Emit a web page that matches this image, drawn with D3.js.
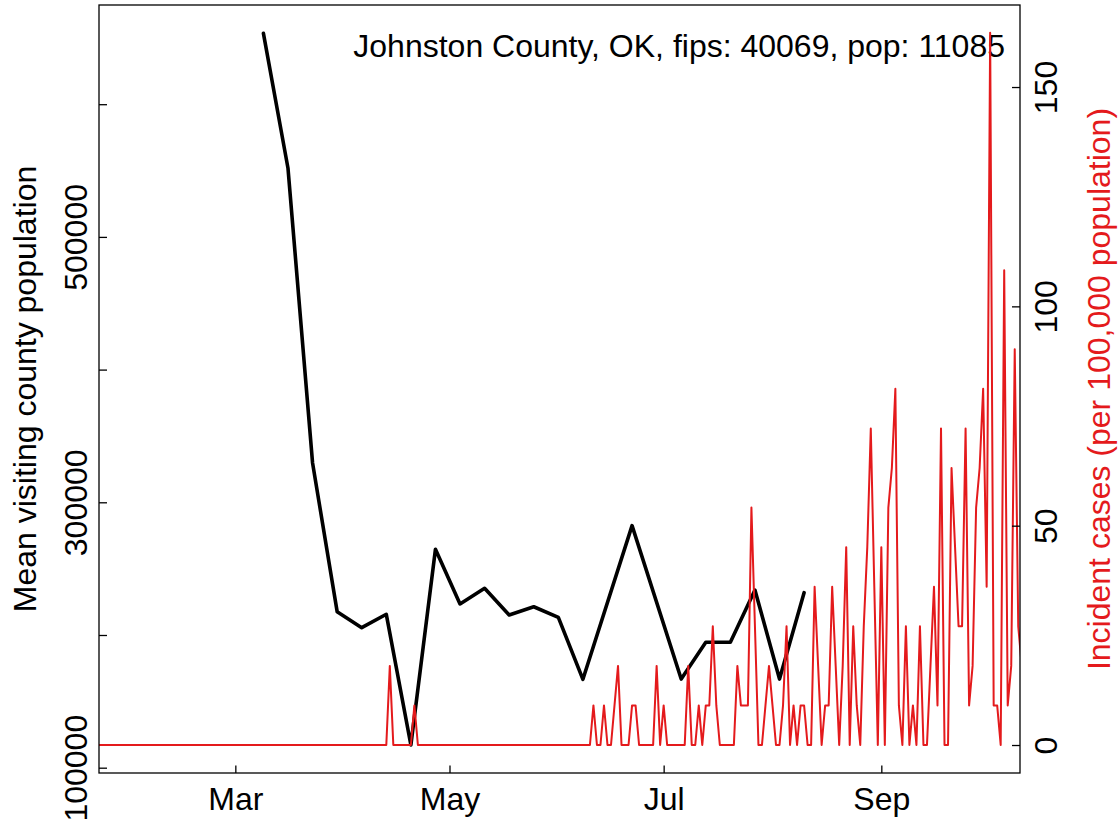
<!DOCTYPE html>
<html>
<head>
<meta charset="utf-8">
<script src="https://cdn.jsdelivr.net/npm/d3@7"></script>
<style>
body { margin: 0; background: #fff; }
text { font-family: "Liberation Sans", Arial, sans-serif; }
</style>
</head>
<body>
<div id="chart"></div>
<script>
'use strict';

// weekly mean visiting county population (black line)
var visitDates = ['2020-03-09', '2020-03-16', '2020-03-23', '2020-03-30', '2020-04-06', '2020-04-13',
    '2020-04-20', '2020-04-27', '2020-05-04', '2020-05-11', '2020-05-18', '2020-05-25', '2020-06-01',
    '2020-06-08', '2020-06-22', '2020-07-06', '2020-07-13', '2020-07-20', '2020-07-27', '2020-08-03',
    '2020-08-10'];
var visitPop = [653400, 551700, 329600, 217600, 205500, 215600,
    117100, 264600, 223400, 235200, 215100, 221300, 213300,
    166600, 282400, 166800, 194500, 194500, 233900, 166800,
    231900];

// daily incident cases per 100,000 (red line), one value per day from caseStart
var caseStart = '2020-01-22';
var incidence = [
    0, 0, 0, 0, 0, 0, 0, 0, 0, 0,
    0, 0, 0, 0, 0, 0, 0, 0, 0, 0,
    0, 0, 0, 0, 0, 0, 0, 0, 0, 0,
    0, 0, 0, 0, 0, 0, 0, 0, 0, 0,
    0, 0, 0, 0, 0, 0, 0, 0, 0, 0,
    0, 0, 0, 0, 0, 0, 0, 0, 0, 0,
    0, 0, 0, 0, 0, 0, 0, 0, 0, 0,
    0, 0, 0, 0, 0, 0, 0, 0, 0, 0,
    0, 0, 0, 18.04, 0, 0, 0, 0, 0, 0,
    9.02, 0, 0, 0, 0, 0, 0, 0, 0, 0,
    0, 0, 0, 0, 0, 0, 0, 0, 0, 0,
    0, 0, 0, 0, 0, 0, 0, 0, 0, 0,
    0, 0, 0, 0, 0, 0, 0, 0, 0, 0,
    0, 0, 0, 0, 0, 0, 0, 0, 0, 0,
    0, 9.02, 0, 0, 9.02, 0, 0, 9.02, 18.04, 0,
    0, 0, 9.02, 9.02, 0, 0, 0, 0, 0, 18.04,
    0, 9.02, 0, 0, 0, 0, 0, 0, 18.04, 0,
    0, 9.02, 0, 9.02, 9.02, 27.06, 9.02, 0, 0, 0,
    0, 0, 18.04, 9.02, 9.02, 9.02, 54.13, 27.06, 0, 0,
    9.02, 18.04, 9.02, 0, 0, 9.02, 27.06, 0, 9.02, 0,
    9.02, 9.02, 0, 0, 36.08, 18.04, 0, 9.02, 9.02, 36.08,
    18.04, 0, 18.04, 45.11, 0, 27.06, 9.02, 0, 27.06, 45.11,
    72.17, 36.08, 0, 45.11, 0, 54.13, 63.15, 81.19, 9.02, 0,
    27.06, 0, 9.02, 0, 27.06, 0, 0, 18.04, 36.08, 9.02,
    72.17, 0, 0, 63.15, 45.11, 27.06, 27.06, 72.17, 9.02, 18.04,
    54.13, 63.15, 81.19, 36.08, 162.38, 9.02, 9.02, 0, 108.25, 9.02,
    18.04, 90.21, 27.06, 18.04
];

var leftTicks = [100000, 200000, 300000, 400000, 500000, 600000];
var leftLabels = [100000, 300000, 500000];
var rightTicks = [0, 50, 100, 150];
var monthTicks = ['2020-03-01', '2020-05-01', '2020-07-01', '2020-09-01'];
var monthLabels = ['Mar', 'May', 'Jul', 'Sep'];
var titleText = 'Johnston County, OK, fips: 40069, pop: 11085';

var chart = {};
chart.width = 1119;
chart.height = 822;
chart.box = {left: 99, top: 5, right: 1020, bottom: 773};
chart.fontSize = 32;
chart.red = '#e41a1c';

var parseDay = d3.timeParse('%Y-%m-%d');

chart.appendSvg = function (div)
{
    return d3.select(div).append('svg')
        .attr('width', chart.width)
        .attr('height', chart.height)
        .style('display', 'block');
};

chart.createScales = function ()
{
    var b = chart.box;
    chart.xScale = d3.scaleTime()
        .domain([new Date(2020, 0, 22, 4), new Date(2020, 9, 10, 12)])
        .range([b.left, b.right]);
    chart.yLeft = d3.scaleLinear().domain([96000, 674760]).range([b.bottom, b.top]);
    chart.yRight = d3.scaleLinear().domain([-6.38, 168.7]).range([b.bottom, b.top]);
};

chart.createAxes = function (svg)
{
    var b = chart.box;
    var fs = chart.fontSize;

    var xAxis = d3.axisBottom(chart.xScale)
        .tickValues(monthTicks.map(parseDay))
        .tickSizeInner(-7.6).tickSizeOuter(0)
        .tickFormat(function (d, i) { return monthLabels[i]; });
    var gx = svg.append('g')
        .attr('transform', 'translate(0,' + b.bottom + ')')
        .call(xAxis);
    gx.selectAll('text').attr('y', 37).attr('dy', null);

    var yAxis = d3.axisLeft(chart.yLeft)
        .tickValues(leftTicks)
        .tickSizeInner(-8).tickSizeOuter(0)
        .tickFormat(function (d) { return leftLabels.indexOf(d) >= 0 ? String(d) : ''; });
    var gy = svg.append('g')
        .attr('transform', 'translate(' + b.left + ',0)')
        .call(yAxis);
    gy.selectAll('text')
        .attr('x', null).attr('dy', null)
        .attr('text-anchor', 'middle')
        .attr('transform', 'translate(-12,0) rotate(-90)');

    var yAxis2 = d3.axisRight(chart.yRight)
        .tickValues(rightTicks)
        .tickSizeInner(-8).tickSizeOuter(0);
    var gy2 = svg.append('g')
        .attr('transform', 'translate(' + b.right + ',0)')
        .call(yAxis2);
    gy2.selectAll('text')
        .attr('x', null).attr('dy', null)
        .attr('text-anchor', 'middle')
        .attr('transform', 'translate(37,0) rotate(-90)');

    [gx, gy, gy2].forEach(function (g) {
        g.select('.domain').remove();
        g.selectAll('line').attr('stroke', '#000').attr('stroke-width', 1.3);
        g.selectAll('text')
            .attr('fill', '#000')
            .style('font-size', fs + 'px')
            .style('font-family', '"Liberation Sans", Arial, sans-serif');
    });

    // box round the plot region
    svg.append('rect')
        .attr('x', b.left).attr('y', b.top)
        .attr('width', b.right - b.left).attr('height', b.bottom - b.top)
        .attr('fill', 'none').attr('stroke', '#000').attr('stroke-width', 1.3);

    var midY = (b.top + b.bottom) / 2;
    svg.append('text')
        .attr('transform', 'translate(36,' + midY + ') rotate(-90)')
        .attr('text-anchor', 'middle')
        .style('font-size', fs + 'px')
        .text('Mean visiting county population');
    svg.append('text')
        .attr('transform', 'translate(1110,' + midY + ') rotate(-90)')
        .attr('text-anchor', 'middle')
        .attr('fill', chart.red)
        .style('font-size', fs + 'px')
        .text('Incident cases (per 100,000 population)');
};

chart.appendLines = function (svg)
{
    var b = chart.box;
    svg.append('clipPath').attr('id', 'plotclip')
        .append('rect')
        .attr('x', b.left).attr('y', b.top)
        .attr('width', b.right - b.left).attr('height', b.bottom - b.top);

    var visits = visitDates.map(function (d, i) { return {date: parseDay(d), v: visitPop[i]}; });
    var start = parseDay(caseStart);
    var cases = incidence.map(function (v, i) { return {date: d3.timeDay.offset(start, i), v: v}; });

    var blackLine = d3.line()
        .x(function (d) { return chart.xScale(d.date); })
        .y(function (d) { return chart.yLeft(d.v); });
    svg.append('path')
        .attr('d', blackLine(visits))
        .attr('clip-path', 'url(#plotclip)')
        .style('fill', 'none')
        .style('stroke', '#000')
        .style('stroke-width', 3.6)
        .style('stroke-linejoin', 'round')
        .style('stroke-linecap', 'round');

    svg.append('text')
        .attr('x', 1005).attr('y', 57)
        .attr('text-anchor', 'end')
        .style('font-size', chart.fontSize + 'px')
        .text(titleText);

    var redLine = d3.line()
        .x(function (d) { return chart.xScale(d.date); })
        .y(function (d) { return chart.yRight(d.v); });
    svg.append('path')
        .attr('d', redLine(cases))
        .attr('clip-path', 'url(#plotclip)')
        .style('fill', 'none')
        .style('stroke', chart.red)
        .style('stroke-width', 2)
        .style('stroke-linejoin', 'round');
};

var svg = chart.appendSvg('#chart');
chart.createScales();
chart.appendLines(svg);
chart.createAxes(svg);
</script>
</body>
</html>
